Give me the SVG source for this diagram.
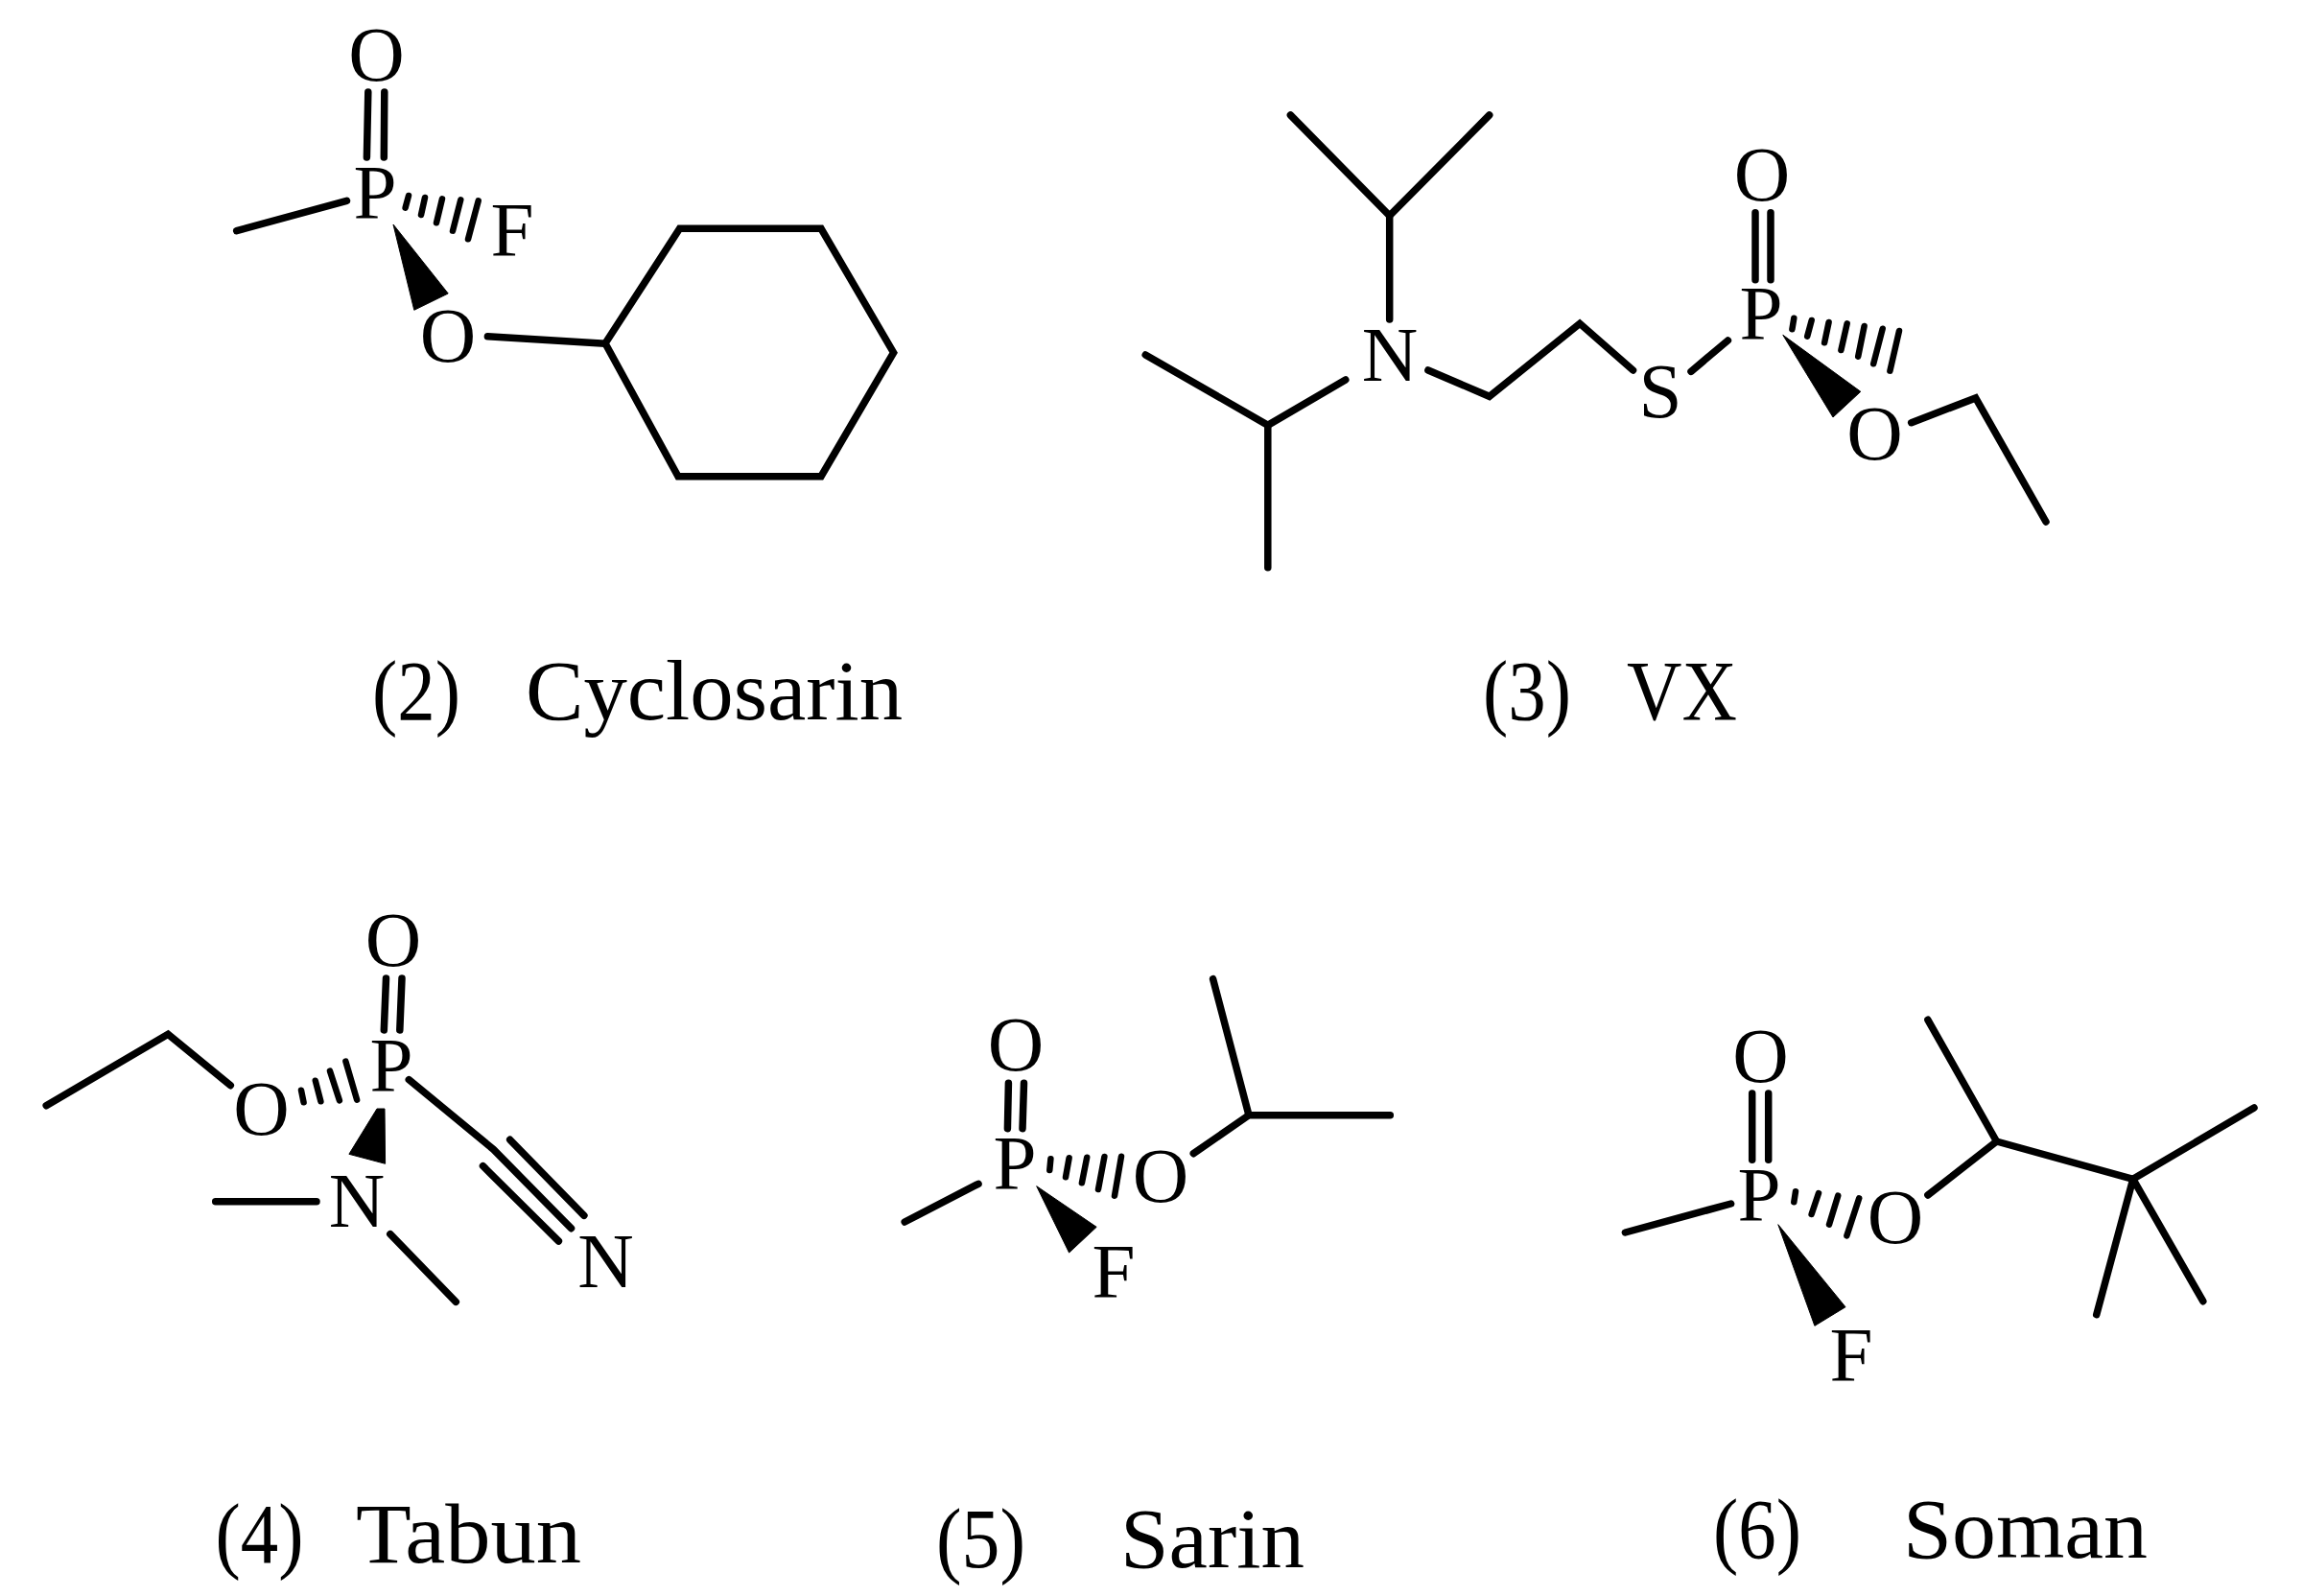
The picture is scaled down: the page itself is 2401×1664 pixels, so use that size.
<svg xmlns="http://www.w3.org/2000/svg" width="2401" height="1664" viewBox="0 0 2401 1664">
<style>
text{font-family:"Liberation Serif","Times New Roman",serif;fill:#000}
.a{font-size:81px;text-anchor:middle}
.c{font-size:88px}
.b line,.b polyline{stroke:#000;stroke-width:7.5;stroke-linecap:round;stroke-linejoin:miter;fill:none}
.b .h line{stroke-width:6.5}
.w{fill:#000;stroke:#000;stroke-width:1;stroke-linejoin:round}
</style>
<rect width="2401" height="1664" fill="#fff"/>
<g id="connectors">
<g id="bonds-2" class="b">
<line x1="383.8" y1="96" x2="382.4" y2="164"/><line x1="400.8" y1="96" x2="400.3" y2="164"/>
<line x1="246.7" y1="240.7" x2="361.5" y2="209.3"/>
<line x1="508.4" y1="350.7" x2="631" y2="358.3"/>
<polyline points="631,358 708.6,238.3 856,238.3 931.6,367.7 856,496.7 707,496.7 631,358"/>
<polygon class="w" points="410,234 467.2,306 431.8,323.3"/>
<g class="h"><line x1="426" y1="204" x2="422.6" y2="216.7"/><line x1="443" y1="206" x2="439" y2="224"/><line x1="461" y1="207.3" x2="455" y2="232.3"/><line x1="480.3" y1="208.3" x2="472" y2="240.7"/><line x1="498.7" y1="209.3" x2="488" y2="249.3"/></g>
</g>
<g id="bonds-3" class="b">
<polyline points="1345.4,120 1448.7,225 1552.7,120"/><line x1="1448.7" y1="225" x2="1448.7" y2="333"/>
<polyline points="1194.2,370 1321.8,443.3 1402.8,396"/><line x1="1321.8" y1="443.3" x2="1321.8" y2="591.7"/>
<polyline points="1488.9,386 1552.7,413.3 1647,337.3 1702.5,386"/>
<line x1="1763" y1="387.3" x2="1801.4" y2="355"/>
<line x1="1830" y1="221.7" x2="1830" y2="291.7"/><line x1="1846" y1="221.7" x2="1846" y2="291.7"/>
<polygon class="w" points="1858.8,349.3 1939.8,408.3 1911,435"/>
<g class="h"><line x1="1870.3" y1="331.7" x2="1868.4" y2="343.3"/><line x1="1888.7" y1="334" x2="1884.2" y2="350.7"/><line x1="1906.6" y1="336" x2="1902.1" y2="357.3"/><line x1="1925.7" y1="337.3" x2="1919.4" y2="365"/><line x1="1943.6" y1="340" x2="1937.2" y2="371.7"/><line x1="1962.7" y1="342.7" x2="1953.2" y2="379.3"/><line x1="1980" y1="345" x2="1970.4" y2="386.7"/></g>
<polyline points="1992.7,440.7 2059.7,415 2133,544"/>
</g>
<g id="bonds-4" class="b">
<line x1="402.5" y1="1020" x2="400.3" y2="1074"/><line x1="419" y1="1020" x2="416.8" y2="1074"/>
<polyline points="48.2,1152.7 175.2,1078.3 240.3,1131.7"/>
<polygon class="w" points="393,1156 401,1156 401.6,1213.3 363.9,1203.3"/>
<g class="h"><line x1="314" y1="1136.7" x2="316.6" y2="1149.3"/><line x1="328.8" y1="1126.7" x2="334.4" y2="1148.3"/><line x1="344" y1="1116.7" x2="353.9" y2="1147.3"/><line x1="360.4" y1="1106.7" x2="372.1" y2="1146.7"/></g>
<line x1="224.7" y1="1252.7" x2="330" y2="1252.7"/>
<line x1="406.8" y1="1286.7" x2="475.3" y2="1357.3"/>
<polyline points="426.3,1125.7 514.4,1198.3 595.5,1280.7"/>
<line x1="531.7" y1="1188.3" x2="608.9" y2="1267.3"/><line x1="503.5" y1="1215.7" x2="582.4" y2="1294"/>
</g>
<g id="bonds-5" class="b">
<line x1="1051.4" y1="1129.3" x2="1050.4" y2="1176.7"/><line x1="1067.5" y1="1129.3" x2="1066" y2="1176.7"/>
<line x1="943.2" y1="1274" x2="1020" y2="1234.3"/>
<polygon class="w" points="1080.7,1236.7 1143.2,1279.3 1114.6,1306"/>
<g class="h"><line x1="1095.4" y1="1208.3" x2="1094.3" y2="1220"/><line x1="1114.6" y1="1207.3" x2="1111" y2="1227.3"/><line x1="1133.2" y1="1206.7" x2="1127.9" y2="1233.3"/><line x1="1151.4" y1="1206" x2="1145" y2="1240"/><line x1="1169" y1="1205.7" x2="1162" y2="1246.7"/></g>
<polyline points="1244.3,1202.7 1302,1162.7 1449.3,1162.7"/><line x1="1264.6" y1="1020.7" x2="1302" y2="1162.7"/>
</g>
<g id="bonds-6" class="b">
<line x1="1826.7" y1="1140" x2="1826.7" y2="1209.3"/><line x1="1843.7" y1="1140" x2="1843.7" y2="1209.3"/>
<line x1="1694.4" y1="1285" x2="1804.6" y2="1255"/>
<polygon class="w" points="1853.8,1276.7 1924,1362.7 1891.9,1382.3"/>
<g class="h"><line x1="1872" y1="1242.3" x2="1870.3" y2="1253.3"/><line x1="1896" y1="1244" x2="1888.6" y2="1266"/><line x1="1916.2" y1="1246.7" x2="1907" y2="1276.7"/><line x1="1938.2" y1="1249.3" x2="1925.4" y2="1288.3"/></g>
<polyline points="2009.9,1246 2081.5,1190 2223.8,1229.3"/><line x1="2009.9" y1="1063.3" x2="2081.5" y2="1190"/>
<line x1="2223.8" y1="1229.3" x2="2350" y2="1155"/><line x1="2223.8" y1="1229.3" x2="2185.7" y2="1370.7"/><line x1="2223.8" y1="1229.3" x2="2296.8" y2="1356.7"/>
</g>
</g>
<g id="cyclosarin">
<g id="m2-O1"><text class="a" x="392.5" y="84">O</text></g>
<g id="m2-P"><text class="a" x="391" y="228">P</text></g>
<g id="m2-F"><text class="a" x="534" y="267">F</text></g>
<g id="m2-O2"><text class="a" x="467" y="377">O</text></g>
<g id="m2-label"><text class="c" x="388" y="750" textLength="92" lengthAdjust="spacingAndGlyphs">(2)</text><text class="c" x="548" y="750" textLength="393" lengthAdjust="spacingAndGlyphs">Cyclosarin</text></g>
</g>
<g id="vx">
<g id="m3-N"><text class="a" x="1449" y="397">N</text></g>
<g id="m3-S"><text class="a" x="1731" y="435">S</text></g>
<g id="m3-P"><text class="a" x="1836" y="354">P</text></g>
<g id="m3-O1"><text class="a" x="1837" y="209">O</text></g>
<g id="m3-O2"><text class="a" x="1954.5" y="479">O</text></g>
<g id="m3-label"><text class="c" x="1546" y="750" textLength="92" lengthAdjust="spacingAndGlyphs">(3)</text><text class="c" x="1696" y="750" textLength="115" lengthAdjust="spacingAndGlyphs">VX</text></g>
</g>
<g id="tabun">
<g id="m4-O1"><text class="a" x="410" y="1007">O</text></g>
<g id="m4-P"><text class="a" x="408" y="1138">P</text></g>
<g id="m4-O2"><text class="a" x="272.6" y="1183">O</text></g>
<g id="m4-N1"><text class="a" x="372" y="1279">N</text></g>
<g id="m4-N2"><text class="a" x="631.5" y="1342">N</text></g>
<g id="m4-label"><text class="c" x="224.5" y="1629" textLength="92" lengthAdjust="spacingAndGlyphs">(4)</text><text class="c" x="371" y="1629" textLength="235" lengthAdjust="spacingAndGlyphs">Tabun</text></g>
</g>
<g id="sarin">
<g id="m5-O1"><text class="a" x="1059" y="1116">O</text></g>
<g id="m5-P"><text class="a" x="1058" y="1240">P</text></g>
<g id="m5-F"><text class="a" x="1161" y="1353">F</text></g>
<g id="m5-O2"><text class="a" x="1210" y="1253">O</text></g>
<g id="m5-label"><text class="c" x="976" y="1634" textLength="93" lengthAdjust="spacingAndGlyphs">(5)</text><text class="c" x="1168" y="1634" textLength="192" lengthAdjust="spacingAndGlyphs">Sarin</text></g>
</g>
<g id="soman">
<g id="m6-O1"><text class="a" x="1835.4" y="1128">O</text></g>
<g id="m6-P"><text class="a" x="1834" y="1273">P</text></g>
<g id="m6-F"><text class="a" x="1930" y="1440">F</text></g>
<g id="m6-O2"><text class="a" x="1976" y="1296">O</text></g>
<g id="m6-label"><text class="c" x="1786" y="1624" textLength="92" lengthAdjust="spacingAndGlyphs">(6)</text><text class="c" x="1984" y="1624" textLength="255" lengthAdjust="spacingAndGlyphs">Soman</text></g>
</g>
</svg>
